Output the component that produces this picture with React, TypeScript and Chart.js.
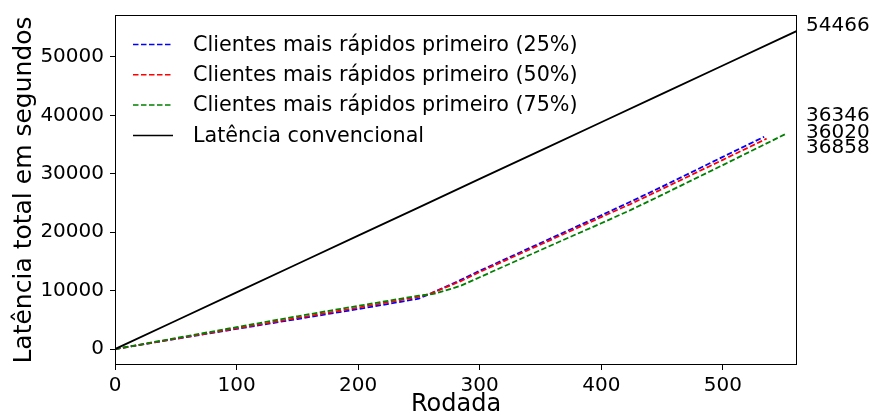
import React, { useEffect, useRef } from "react";
import { Chart, registerables } from "chart.js";

Chart.register(...registerables);

// ---- data ----
const rounds25 = [0, 50, 100, 150, 200, 235, 250, 260, 284, 300, 350, 400, 424, 450, 500, 534];
const latencia25 = [0, 1750, 3450, 5150, 6850, 8100, 8650, 9530, 11800, 13400, 18150, 22900, 25220, 27800, 32900, 36346];

const rounds50 = [0, 50, 100, 150, 200, 235, 250, 260, 284, 300, 350, 400, 424, 450, 500, 536];
const latencia50 = [0, 1780, 3550, 5330, 7100, 8400, 8950, 9530, 11600, 13200, 17900, 22600, 24820, 27400, 32400, 36020];

const rounds75 = [0, 50, 100, 150, 200, 250, 262, 270, 284, 300, 350, 400, 424, 450, 500, 552];
const latencia75 = [0, 1880, 3750, 5620, 7400, 9150, 9450, 9930, 10800, 12300, 16950, 21550, 23790, 26400, 31500, 36858];

const roundsConv = [0, 50, 100, 150, 200, 250, 300, 350, 400, 450, 500, 550, 561];
const latenciaConv = [0, 4860, 9710, 14560, 19420, 24270, 29130, 33980, 38840, 43690, 48550, 53400, 54466];

const seriesLabels = [
  "Clientes mais rápidos primeiro (25%)",
  "Clientes mais rápidos primeiro (50%)",
  "Clientes mais rápidos primeiro (75%)",
  "Latência convencional",
];

const xTicks = [0, 100, 200, 300, 400, 500];
const yTicks = [0, 10000, 20000, 30000, 40000, 50000];

const X_MIN = 0;
const X_MAX = 561;
const Y_MIN = -2723;
const Y_MAX = 57189;

const FONT = "DejaVu Sans";

function pts(xs: number[], ys: number[]) {
  return xs.map((x, i) => ({ x, y: ys[i] }));
}

const overlayPlugin = {
  id: "overlay",
  afterDatasetsDraw(chart: any) {
    const { ctx, chartArea: a, scales } = chart;
    const yScale = scales.y;
    ctx.save();
    // frame (all four spines)
    ctx.strokeStyle = "#000";
    ctx.lineWidth = 1;
    ctx.setLineDash([]);
    ctx.strokeRect(a.left + 0.5, a.top + 0.5, a.right - a.left - 1, a.bottom - a.top - 1);

    // legend
    const datasets = chart.data.datasets;
    const rowStart = a.top + 29.5;
    const rowGap = 30.3;
    datasets.forEach((ds: any, i: number) => {
      const y = rowStart + i * rowGap;
      ctx.beginPath();
      ctx.setLineDash(ds.borderDash || []);
      ctx.strokeStyle = ds.borderColor;
      ctx.lineWidth = 1.5;
      ctx.moveTo(a.left + 18, y);
      ctx.lineTo(a.left + 58, y);
      ctx.stroke();
      ctx.setLineDash([]);
      ctx.fillStyle = "#000";
      ctx.font = `20.7px "${FONT}"`;
      ctx.textAlign = "left";
      ctx.textBaseline = "middle";
      ctx.fillText(ds.label, a.left + 78, y + 1);
    });

    // end-value labels
    const offsets = [-16, -1, 19, 0];
    ctx.font = `20px "${FONT}"`;
    ctx.textBaseline = "alphabetic";
    ctx.textAlign = "left";
    ctx.fillStyle = "#000";
    datasets.forEach((ds: any, i: number) => {
      const last = ds.data[ds.data.length - 1].y;
      const y = yScale.getPixelForValue(last) + offsets[i];
      ctx.fillText(String(last), a.right + 9, y);
    });
    ctx.restore();
  },
};

export default function App() {
  const canvasRef = useRef<HTMLCanvasElement | null>(null);

  useEffect(() => {
    const canvas = canvasRef.current;
    if (!canvas) return;
    const dash = [5.5, 2.5];
    const common = { borderWidth: 1.8, pointRadius: 0, tension: 0 };
    const chart = new Chart(canvas, {
      type: "line",
      data: {
        datasets: [
          { ...common, label: seriesLabels[0], data: pts(rounds25, latencia25), borderColor: "#0000ff", borderDash: dash, order: 4 },
          { ...common, label: seriesLabels[1], data: pts(rounds50, latencia50), borderColor: "#ff0000", borderDash: dash, order: 3 },
          { ...common, label: seriesLabels[2], data: pts(rounds75, latencia75), borderColor: "#008000", borderDash: dash, order: 2 },
          { ...common, label: seriesLabels[3], data: pts(roundsConv, latenciaConv), borderColor: "#000000", order: 1 },
        ],
      },
      options: {
        responsive: false,
        devicePixelRatio: 1,
        animation: false,
        layout: { padding: { top: 15, right: 77, bottom: 0, left: 0 } },
        plugins: {
          legend: { display: false },
          tooltip: { enabled: false },
        },
        scales: {
          x: {
            type: "linear",
            min: X_MIN,
            max: X_MAX,
            afterBuildTicks: (s: any) => {
              s.ticks = xTicks.map((v) => ({ value: v }));
            },
            afterFit: (s: any) => {
              s.height = 52;
              s.paddingLeft = 0;
              s.paddingRight = 0;
            },
            border: { display: false },
            grid: {
              drawOnChartArea: false,
              drawTicks: true,
              tickLength: 5,
              tickColor: "#000",
              tickWidth: 1,
            },
            ticks: {
              color: "#000",
              font: { family: FONT, size: 20 },
              padding: 4,
              maxRotation: 0,
              callback: (v: any) => String(v),
            },
            title: {
              display: true,
              text: "Rodada",
              color: "#000",
              font: { family: FONT, size: 24, lineHeight: 1 },
              padding: { top: 0, bottom: 0 },
            },
          },
          y: {
            type: "linear",
            min: Y_MIN,
            max: Y_MAX,
            afterBuildTicks: (s: any) => {
              s.ticks = yTicks.map((v) => ({ value: v }));
            },
            afterFit: (s: any) => {
              s.width = 115;
              s.paddingTop = 0;
              s.paddingBottom = 0;
            },
            border: { display: false },
            grid: {
              drawOnChartArea: false,
              drawTicks: true,
              tickLength: 5,
              tickColor: "#000",
              tickWidth: 1,
            },
            ticks: {
              color: "#000",
              font: { family: FONT, size: 20 },
              padding: 6,
              callback: (v: any) => String(v),
            },
            title: {
              display: true,
              text: "Latência total em segundos",
              color: "#000",
              font: { family: FONT, size: 25, lineHeight: 1 },
              padding: { top: 12, bottom: 0 },
            },
          },
        },
      },
      plugins: [overlayPlugin],
    } as any);
    return () => chart.destroy();
  }, []);

  return (
    <div style={{ position: "fixed", left: 0, top: 0, width: 874, height: 417, background: "#fff" }}>
      <canvas ref={canvasRef} width={874} height={417} style={{ display: "block", width: 874, height: 417 }} />
    </div>
  );
}
